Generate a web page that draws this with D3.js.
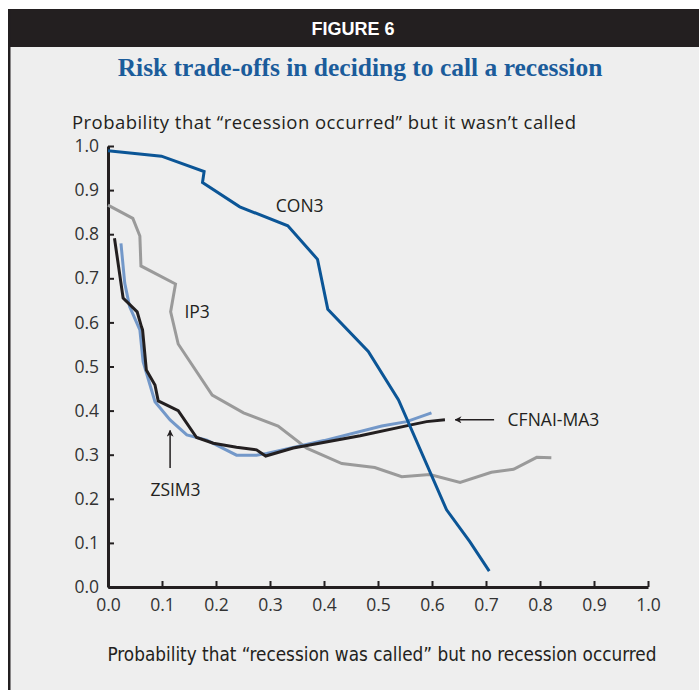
<!DOCTYPE html>
<html>
<head>
<meta charset="utf-8">
<script src="https://cdn.jsdelivr.net/npm/d3@7/dist/d3.min.js"></script>
<style>
  body { margin: 0; background: #fff; }
  svg { display: block; }
</style>
</head>
<body>
<script>
// false-call probability (x) vs missed-recession probability (y)
const con3X = [0.0, 0.099, 0.178, 0.175, 0.244, 0.333, 0.388, 0.407, 0.482, 0.538, 0.627, 0.670, 0.706];
const con3Y = [0.989, 0.977, 0.942, 0.917, 0.862, 0.819, 0.743, 0.630, 0.534, 0.424, 0.175, 0.103, 0.036];

const ip3X = [0.0, 0.046, 0.059, 0.061, 0.125, 0.116, 0.130, 0.193, 0.251, 0.315, 0.368, 0.433, 0.494, 0.544, 0.596, 0.652, 0.710, 0.751, 0.794, 0.821];
const ip3Y = [0.866, 0.836, 0.796, 0.728, 0.687, 0.624, 0.551, 0.435, 0.395, 0.365, 0.315, 0.280, 0.271, 0.250, 0.255, 0.237, 0.260, 0.267, 0.294, 0.293];

const zsimX = [0.024, 0.031, 0.040, 0.059, 0.065, 0.087, 0.115, 0.146, 0.183, 0.238, 0.275, 0.294, 0.400, 0.507, 0.553, 0.599];
const zsimY = [0.779, 0.689, 0.636, 0.583, 0.511, 0.420, 0.379, 0.345, 0.333, 0.299, 0.299, 0.303, 0.332, 0.365, 0.375, 0.395];

const cfnaiX = [0.012, 0.028, 0.054, 0.062, 0.064, 0.071, 0.087, 0.093, 0.130, 0.164, 0.195, 0.238, 0.275, 0.292, 0.343, 0.467, 0.559, 0.590, 0.624];
const cfnaiY = [0.791, 0.655, 0.624, 0.590, 0.583, 0.492, 0.458, 0.422, 0.400, 0.339, 0.326, 0.317, 0.311, 0.297, 0.315, 0.343, 0.367, 0.375, 0.379];

const xTicks = [0, 0.1, 0.2, 0.3, 0.4, 0.5, 0.6, 0.7, 0.8, 0.9, 1.0];
const yTicks = [0, 0.1, 0.2, 0.3, 0.4, 0.5, 0.6, 0.7, 0.8, 0.9, 1.0];

const W = 699, H = 690;
const sans = "'Liberation Sans', Arial, sans-serif";
const wide = "'Open Sans', 'Liberation Sans', sans-serif";
const narrow = "'Liberation Sans Narrow', 'DejaVu Sans Condensed', 'Liberation Sans', sans-serif";
const ink = "#231f20";

let svg = d3.select("body").append("svg")
    .attr("width", W)
    .attr("height", H);

// panel + header
svg.append("rect").attr("x", 9).attr("y", 9).attr("width", W - 9).attr("height", H - 9).attr("fill", "#eeeeee");
svg.append("rect").attr("x", 8).attr("y", 9).attr("width", W - 8).attr("height", 38).attr("fill", ink);
svg.append("rect").attr("x", 8).attr("y", 9).attr("width", 2.5).attr("height", H - 9).attr("fill", ink);

svg.append("text")
    .attr("x", 353).attr("y", 35)
    .attr("text-anchor", "middle")
    .attr("font-family", sans)
    .attr("font-weight", "bold")
    .attr("font-size", 18)
    .attr("fill", "#fff")
    .text("FIGURE 6");

svg.append("text")
    .attr("x", 360).attr("y", 76)
    .attr("text-anchor", "middle")
    .attr("font-family", "'Liberation Serif', 'Times New Roman', serif")
    .attr("font-weight", "bold")
    .attr("font-size", 25.5)
    .attr("fill", "#1b5c9b")
    .text("Risk trade-offs in deciding to call a recession");

let x = d3.scaleLinear().domain([0, 1]).range([108, 648]);
let y = d3.scaleLinear().domain([0, 1]).range([587, 146]);

// axes
let xAxis = svg.append("g")
    .attr("transform", "translate(0," + y(0) + ")")
    .call(d3.axisBottom(x).tickValues(xTicks).tickSize(-6).tickSizeOuter(0).tickFormat(d3.format(".1f")));
let yAxis = svg.append("g")
    .attr("transform", "translate(" + x(0) + ",0)")
    .call(d3.axisLeft(y).tickValues(yTicks).tickSize(-6).tickSizeOuter(0).tickFormat(d3.format(".1f")));

[xAxis, yAxis].forEach(function (g) {
    g.select(".domain").attr("stroke", ink).attr("stroke-width", 3);
    g.selectAll(".tick line").attr("stroke", ink).attr("stroke-width", 2);
    g.selectAll("text")
        .attr("font-family", wide)
        .attr("font-size", 17.5)
        .attr("fill", "#333");
});
xAxis.selectAll("text").attr("y", 12);
yAxis.selectAll("text").attr("x", -9);

svg.append("text")
    .attr("x", 72).attr("y", 129)
    .attr("font-family", wide)
    .attr("font-size", 18.5)
    .attr("textLength", 504)
    .attr("lengthAdjust", "spacing")
    .attr("fill", ink)
    .text("Probability that \u201crecession occurred\u201d but it wasn\u2019t called");

svg.append("text")
    .attr("x", 382).attr("y", 661)
    .attr("text-anchor", "middle")
    .attr("font-family", narrow)
    .attr("font-size", 18.8)
    .attr("fill", ink)
    .text("Probability that \u201crecession was called\u201d but no recession occurred");

// lines
let line = d3.line().x(d => x(d[0])).y(d => y(d[1]));

let series = [
    { xs: ip3X, ys: ip3Y, color: "#9a9a9a" },
    { xs: zsimX, ys: zsimY, color: "#7398c9" },
    { xs: cfnaiX, ys: cfnaiY, color: ink },
    { xs: con3X, ys: con3Y, color: "#0b5596" }
];

series.forEach(function (s) {
    svg.append("path")
        .datum(d3.zip(s.xs, s.ys))
        .attr("fill", "none")
        .attr("stroke", s.color)
        .attr("stroke-width", 3)
        .attr("stroke-linejoin", "miter")
        .attr("d", line);
});

// labels
let labels = [
    { t: "CON3", x: 0.355, y: 0.865 },
    { t: "IP3", x: 0.165, y: 0.625 },
    { t: "ZSIM3", x: 0.125, y: 0.22 },
    { t: "CFNAI-MA3", x: 0.74, y: 0.38 }
];
svg.selectAll(".lbl")
    .data(labels)
    .enter().append("text")
    .attr("class", "lbl")
    .attr("x", d => x(d.x))
    .attr("y", d => y(d.y))
    .attr("dy", "0.35em")
    .attr("text-anchor", d => d.t == "CFNAI-MA3" ? "start" : "middle")
    .attr("font-family", wide)
    .attr("font-size", 17.5)
    .attr("fill", ink)
    .text(d => d.t);

svg.append("defs").append("marker")
    .attr("id", "head")
    .attr("viewBox", "0 0 10 10")
    .attr("refX", 9).attr("refY", 5)
    .attr("markerWidth", 7).attr("markerHeight", 7)
    .attr("markerUnits", "userSpaceOnUse")
    .attr("orient", "auto")
    .append("path")
    .attr("d", "M0,0 L10,5 L0,10 L3,5 Z")
    .attr("fill", ink);

let arrows = [
    { x1: 0.115, y1: 0.27, x2: 0.115, y2: 0.355 },
    { x1: 0.715, y1: 0.379, x2: 0.643, y2: 0.379 }
];
svg.selectAll(".arr")
    .data(arrows)
    .enter().append("line")
    .attr("class", "arr")
    .attr("x1", d => x(d.x1)).attr("y1", d => y(d.y1))
    .attr("x2", d => x(d.x2)).attr("y2", d => y(d.y2))
    .attr("stroke", ink)
    .attr("stroke-width", 1.5)
    .attr("marker-end", "url(#head)");
</script>
</body>
</html>
